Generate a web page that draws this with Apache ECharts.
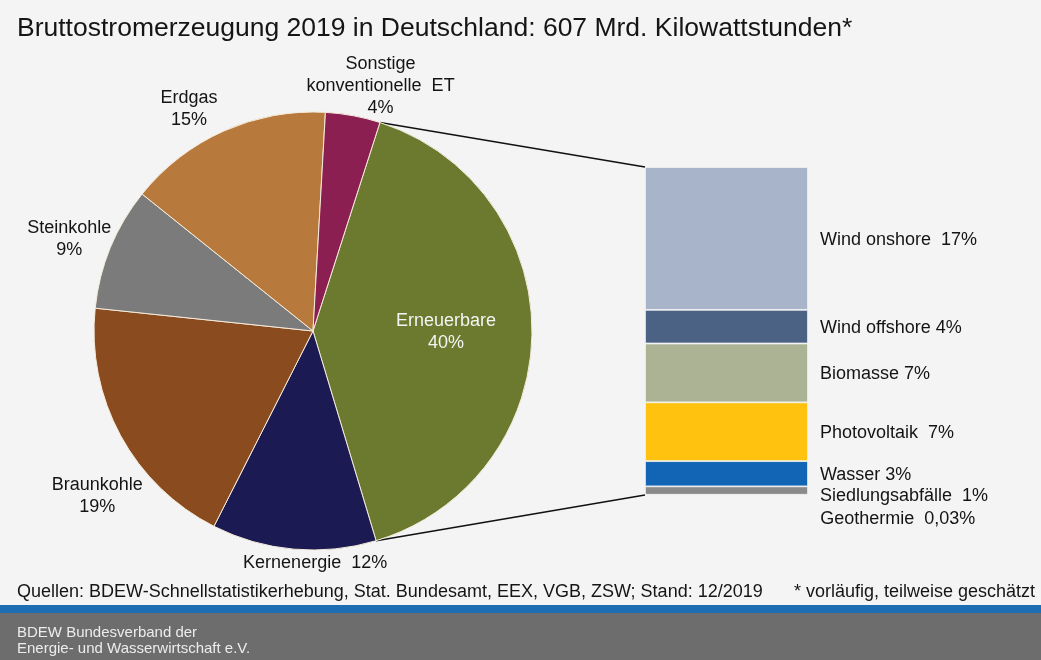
<!DOCTYPE html>
<html>
<head>
<meta charset="utf-8">
<title>Bruttostromerzeugung 2019</title>
<script src="https://cdn.jsdelivr.net/npm/echarts@6/dist/echarts.min.js"></script>
<style>
  html, body { margin: 0; padding: 0; background: #f4f4f4; }
  #chart { width: 1041px; height: 660px; }
</style>
</head>
<body>
<div id="chart"></div>
<script>
// Energieträger (Kreis), im Uhrzeigersinn ab Erneuerbare
var pieNames = ['Erneuerbare', 'Kernenergie', 'Braunkohle', 'Steinkohle', 'Erdgas', 'Sonstige\nkonventionelle  ET'];
var pieValues = [40, 12, 19, 9, 15, 4];
var pieColors = ['#6b7a2f', '#1b1a52', '#8a4b1e', '#7b7b7b', '#b87a3c', '#8c1f52'];

// Aufteilung Erneuerbare (Säule), von unten nach oben
var barNames = ['Geothermie', 'Siedlungsabfälle', 'Wasser', 'Photovoltaik', 'Biomasse', 'Wind offshore', 'Wind onshore'];
var barValues = [0.03, 1, 3, 7, 7, 4, 17];
var barColors = ['#e2b4b4', '#8a8a8a', '#1264b4', '#ffc20e', '#abb394', '#4c6284', '#a7b4c9'];

// Feinjustierung der Beschriftungen
var pieLabelDist = [0.607, 1.06, 1.24, 1.19, 1.16, 1.16];
var pieLabelTurn = [-0.1, -5.6, -8.8, -1.6, -5.2, 4.9];
var barLabelShift = [24, 5, 1, 1, 1, 1, 2];
var barLabelSep = ['  ', '  ', ' ', '  ', ' ', ' ', '  '];

var CX = 313, CY = 331, R = 219;
var START = 17.8; // Grad im Uhrzeigersinn ab 12 Uhr
var FONT = "'Liberation Sans', Arial, sans-serif";

var pieTotal = pieValues.reduce(function (a, b) { return a + b; }, 0);
var barTotal = barValues.reduce(function (a, b) { return a + b; }, 0);

function pct(v) {
    return String(v).replace('.', ',') + '%';
}

function midAngle(i) {
    var acc = 0;
    for (var k = 0; k < i; k++) acc += pieValues[k];
    return START + (acc + pieValues[i] / 2) / pieTotal * 360;
}

var chart = echarts.init(document.getElementById('chart'));

var barSeries = barNames.map(function (name, i) {
    return {
        name: name,
        type: 'bar',
        stack: 'ee',
        barWidth: '100%',
        data: [barValues[i]],
        itemStyle: { color: barColors[i], borderColor: '#f4f4f4', borderWidth: 0.8 },
        label: {
            show: true,
            position: 'right',
            distance: 12,
            offset: [0, barLabelShift[i]],
            color: '#141414',
            fontFamily: FONT,
            fontSize: 18,
            formatter: function () { return name + barLabelSep[i] + pct(barValues[i]); }
        },
        silent: true
    };
});

var footer = [
    { type: 'rect', shape: { x: 0, y: 605, width: 1041, height: 8 }, style: { fill: '#1d6db5' }, z: 1 },
    { type: 'rect', shape: { x: 0, y: 613, width: 1041, height: 47 }, style: { fill: '#6d6d6d' }, z: 1 },
    {
        type: 'text', left: 17, top: 625, z: 2,
        style: {
            text: 'BDEW Bundesverband der\nEnergie- und Wasserwirtschaft e.V.',
            fill: '#ececec', font: '15px ' + FONT, lineHeight: 16
        }
    }
];

chart.setOption({
    backgroundColor: '#f4f4f4',
    animation: false,
    title: [{
        text: 'Bruttostromerzeugung 2019 in Deutschland: 607 Mrd. Kilowattstunden*',
        left: 17, top: 15, padding: 0,
        textStyle: { fontFamily: FONT, fontSize: 26.5, fontWeight: 'normal', color: '#151515' }
    }, {
        text: 'Quellen: BDEW-Schnellstatistikerhebung, Stat. Bundesamt, EEX, VGB, ZSW; Stand: 12/2019',
        left: 17, top: 583, padding: 0,
        textStyle: { fontFamily: FONT, fontSize: 18, fontWeight: 'normal', color: '#151515' }
    }, {
        text: '* vorläufig, teilweise geschätzt',
        right: 6, top: 583, padding: 0,
        textStyle: { fontFamily: FONT, fontSize: 18, fontWeight: 'normal', color: '#151515' }
    }],
    graphic: footer,
    grid: { left: 645, width: 163, top: 167, bottom: 165 },
    xAxis: { type: 'category', data: ['Erneuerbare'], show: false },
    yAxis: { type: 'value', min: 0, max: barTotal, show: false },
    series: [{
        type: 'pie',
        center: [CX, CY],
        radius: R,
        startAngle: 90 - START,
        clockwise: true,
        avoidLabelOverlap: false,
        silent: true,
        itemStyle: { borderColor: '#f6ecdc', borderWidth: 1 },
        labelLine: { show: false },
        label: {
            show: true,
            position: 'outside',
            fontFamily: FONT,
            fontSize: 18,
            lineHeight: 22,
            color: '#141414',
            formatter: function (p) {
                var sep = p.name === 'Kernenergie' ? '  ' : '\n';
                return p.name + sep + pct(p.value);
            }
        },
        labelLayout: function (params) {
            var i = params.dataIndex;
            var a = (midAngle(i) + pieLabelTurn[i]) * Math.PI / 180;
            var d = R * pieLabelDist[i];
            return {
                x: CX + d * Math.sin(a),
                y: CY - d * Math.cos(a),
                align: 'center',
                verticalAlign: 'middle'
            };
        },
        data: pieNames.map(function (n, i) {
            var item = { name: n, value: pieValues[i], itemStyle: { color: pieColors[i] } };
            if (i === 0) item.label = { color: '#f4f4f4' };
            return item;
        })
    }].concat(barSeries)
});

// Verbindungslinien vom Erneuerbare-Segment zur Säule
var a0 = START * Math.PI / 180;
var a1 = (START + pieValues[0] / pieTotal * 360) * Math.PI / 180;
var xBar = chart.getModel().getComponent('grid').coordinateSystem.getRect().x;
var yTop = chart.convertToPixel({ yAxisIndex: 0 }, barTotal);
var yBot = chart.convertToPixel({ yAxisIndex: 0 }, 0);

chart.setOption({
    graphic: footer.concat([
        {
            type: 'line', z: 0,
            shape: { x1: CX + R * Math.sin(a0), y1: CY - R * Math.cos(a0), x2: xBar, y2: yTop },
            style: { stroke: '#111', lineWidth: 1.5 }
        },
        {
            type: 'line', z: 0,
            shape: { x1: CX + R * Math.sin(a1), y1: CY - R * Math.cos(a1), x2: xBar, y2: yBot },
            style: { stroke: '#111', lineWidth: 1.5 }
        }
    ])
}, { replaceMerge: ['graphic'] });
</script>
</body>
</html>
